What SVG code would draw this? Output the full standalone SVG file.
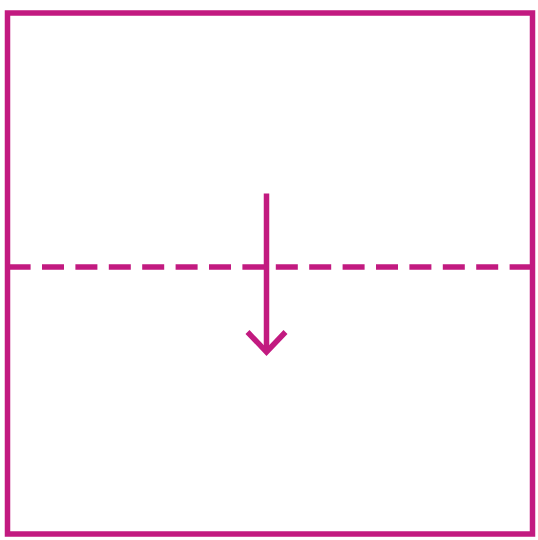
<svg xmlns="http://www.w3.org/2000/svg" width="538" height="540" viewBox="0 0 538 540">
<style>
.ln{fill:none;stroke:#c21a80;stroke-width:5.5}
</style>
<rect width="538" height="540" fill="#ffffff"/>
<g id="frame">
<rect class="ln" x="7.5" y="13" width="525" height="521"/>
</g>
<g id="fold">
<line class="ln" x1="8" y1="267" x2="532" y2="267" stroke-dasharray="22 11.4" stroke-dashoffset="-0.6"/>
</g>
<g id="connectors">
<line class="ln" x1="266.5" y1="193.5" x2="266.5" y2="352"/>
<polyline class="ln" points="247.5,332 266.5,352 285.5,332" stroke-linejoin="miter"/>
</g>
</svg>
